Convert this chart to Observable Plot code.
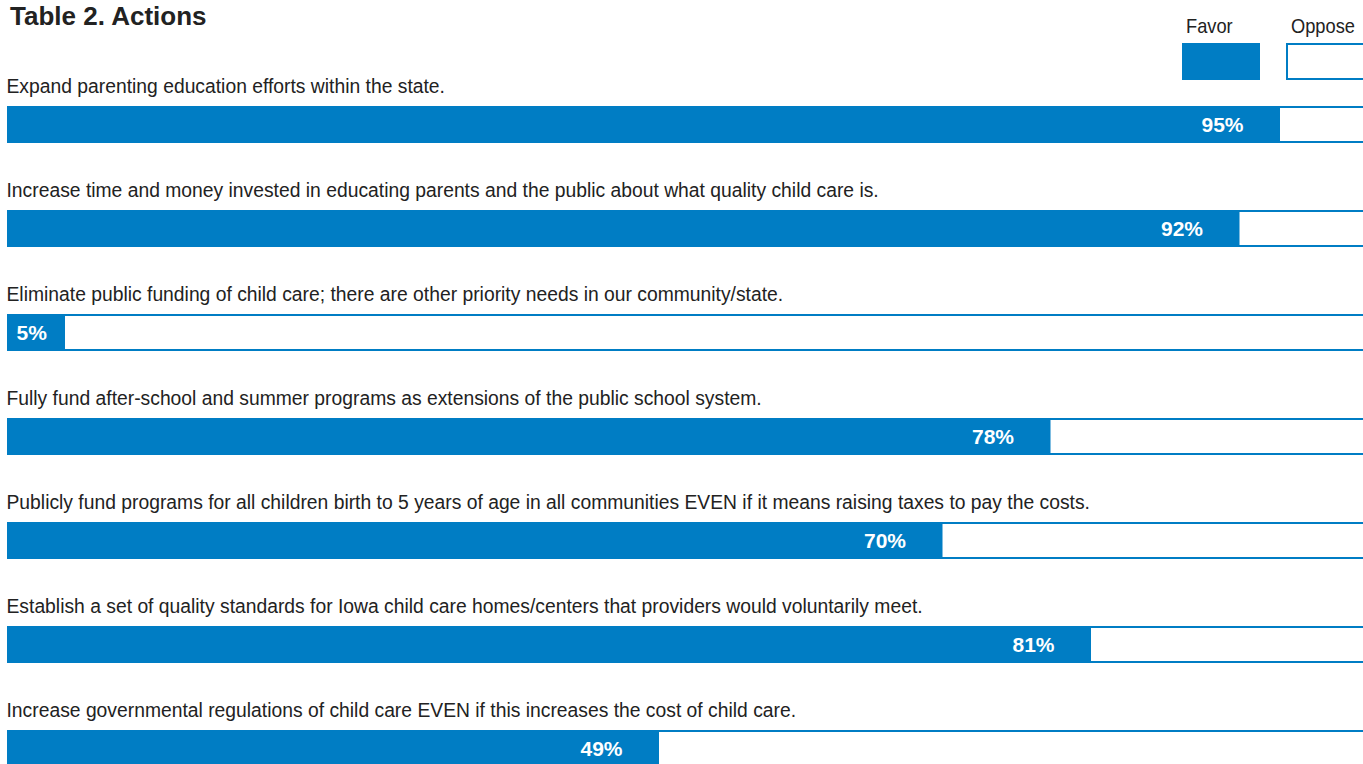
<!DOCTYPE html>
<html>
<head>
<meta charset="utf-8">
<script src="https://cdn.jsdelivr.net/npm/d3@7"></script>
<script src="https://cdn.jsdelivr.net/npm/@observablehq/plot@0.6"></script>
<style>
  html, body { margin: 0; padding: 0; background: #fff; }
  #wrap { position: relative; width: 1363px; height: 764px; overflow: hidden; }
  #chart { position: absolute; left: 0; top: 0; }
  #title { position: absolute; left: 10px; top: 1px; font-family: "Liberation Sans", Arial, sans-serif; font-weight: bold; font-size: 26px; line-height: 30px; color: #222; }
  .leg { position: absolute; font-family: "Liberation Sans", sans-serif; font-size: 21px; color: #222; transform: scaleX(0.87); transform-origin: left center; }
  .sw { position: absolute; box-sizing: border-box; height: 37px; }
</style>
</head>
<body>
<div id="wrap">
  <div id="chart"></div>
  <div id="title">Table 2. Actions</div>
  <div class="leg" style="left:1186px; top:14px;">Favor</div>
  <div class="leg" style="left:1291px; top:14px;">Oppose</div>
  <div class="sw" style="left:1182px; top:43px; width:78px; background:#007dc4;"></div>
  <div class="sw" style="left:1286px; top:43px; width:80px; border:2px solid #007dc4; background:#fff;"></div>
</div>
<script>
const actions = [
  "Expand parenting education efforts within the state.",
  "Increase time and money invested in educating parents and the public about what quality child care is.",
  "Eliminate public funding of child care; there are other priority needs in our community/state.",
  "Fully fund after-school and summer programs as extensions of the public school system.",
  "Publicly fund programs for all children birth to 5 years of age in all communities EVEN if it means raising taxes to pay the costs.",
  "Establish a set of quality standards for Iowa child care homes/centers that providers would voluntarily meet.",
  "Increase governmental regulations of child care EVEN if this increases the cost of child care."
];
const favor = [95, 92, 5, 78, 70, 81, 49];

const blue = "#007dc4";
const data = actions.map((a, i) => ({action: a, favor: favor[i]}));

const chart = Plot.plot({
  width: 1363,
  height: 764,
  margin: 0,
  x: {domain: [0, 100], range: [-2.5, 1347.5], axis: null},
  y: {domain: actions, range: [60, 788], padding: 0, axis: null},
  style: {fontFamily: "'Liberation Sans', sans-serif", background: "white"},
  marks: [
    Plot.barX(data, {x1: 0, x2: 100, y: "action", fill: "white", stroke: blue, strokeWidth: 2,
      insetLeft: 10.5, insetRight: -17, insetTop: 47, insetBottom: 22}),
    Plot.barX(data, {x1: 0, x2: "favor", y: "action", fill: blue,
      insetLeft: 9.5, insetTop: 46, insetBottom: 21}),
    Plot.text(data, {y: "action", text: "action", frameAnchor: "left", textAnchor: "start",
      lineAnchor: "bottom", dx: 6, dy: -20, fontSize: 21, fill: "#222", ariaLabel: "action-labels"}),
    Plot.text(data.filter(d => d.favor >= 10), {x: "favor", y: "action", text: d => d.favor + "%",
      dx: -58, dy: 12.5, lineAnchor: "middle", fill: "white", fontWeight: "bold", fontSize: 21}),
    Plot.text(data.filter(d => d.favor < 10), {x: d => d.favor / 2, y: "action", text: d => d.favor + "%",
      dy: 12.5, lineAnchor: "middle", fill: "white", fontWeight: "bold", fontSize: 21})
  ]
});
// condense the action labels horizontally to mimic the narrow typeface
const g = chart.querySelector('g[aria-label="action-labels"]') || chart.querySelectorAll('g[aria-label="text"]')[0];
if (g) {
  const t = g.getAttribute("transform") || "";
  g.setAttribute("transform", (t + " scale(0.92,1)").trim());
}
document.getElementById("chart").appendChild(chart);
</script>
</body>
</html>
